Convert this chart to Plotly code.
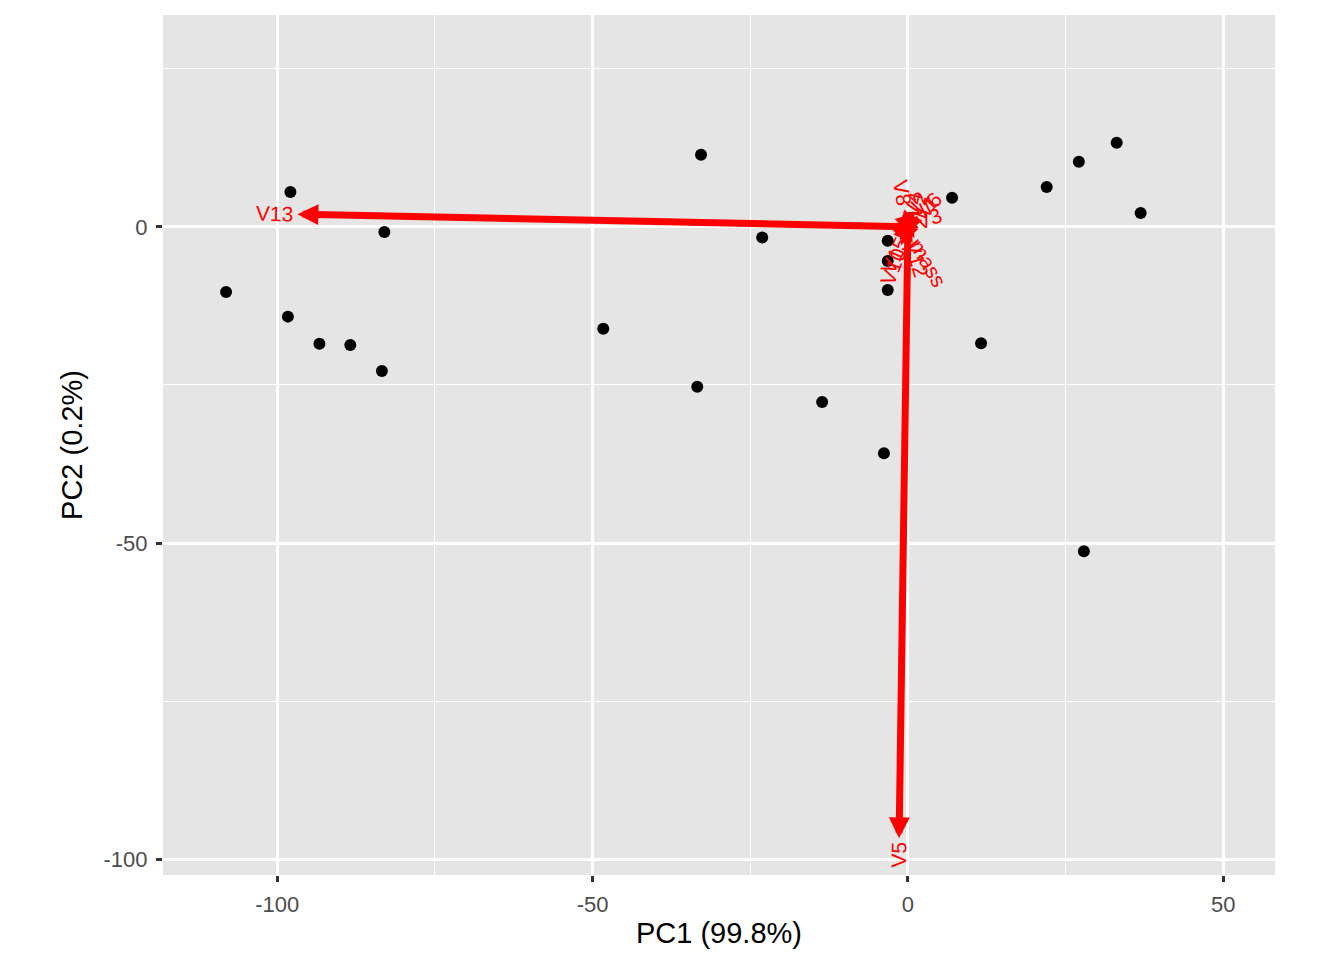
import numpy as np
import plotly.graph_objects as go

# PCA scores (PC1, PC2)
pc1 = [-32.8, -97.9, -83.0, -108.1, -98.3, -93.3, -88.4, -83.4, -48.3, -33.4,
       -23.1, -13.6, -3.8, -3.2, -3.2, -3.2, 7.0, 11.6, 22.0, 27.1, 33.1, 36.9, 27.9]
pc2 = [11.4, 5.5, -0.8, -10.3, -14.2, -18.5, -18.7, -22.8, -16.1, -25.3,
       -1.7, -27.7, -35.8, -10.0, -5.4, -2.2, 4.6, -18.4, 6.3, 10.3, 13.3, 2.2, -51.3]

# loadings (arrow tips)
var_names = ["V13", "V5", "V8", "V10", "mass", "V12", "V15", "V1", "V2", "V3", "V4", "V6"]
load_x = [-96.8, -1.4, -0.5, -1.1, 1.03, 0.44, -0.6, 0.9, 0.5, 1.0, 0.2, 1.6]
load_y = [2.0, -96.7, 2.8, -2.9, -1.78, -1.5, -1.3, 1.0, 1.2, 0.4, 0.9, 1.7]

x_ticks = [-100, -50, 0, 50]
y_ticks = [-100, -50, 0]

fig = go.Figure()
fig.add_trace(go.Scatter(x=pc1, y=pc2, mode="markers",
                         marker=dict(color="black", size=12), showlegend=False))

annotations = []
for name, vx, vy in zip(var_names, load_x, load_y):
    annotations.append(dict(x=vx, y=vy, ax=0, ay=0, xref="x", yref="y",
                            axref="x", ayref="y", text="", showarrow=True,
                            arrowhead=2, arrowsize=0.6, arrowwidth=7,
                            arrowcolor="red", standoff=0))
for name, vx, vy in zip(var_names, load_x, load_y):
    ang = np.degrees(np.arctan(vy / vx))
    norm = np.hypot(vx, vy)
    ux, uy = vx / norm, vy / norm
    half = len(name) * 6.2 + 4
    annotations.append(dict(x=vx, y=vy, xref="x", yref="y", text=name,
                            showarrow=False, textangle=-ang,
                            xshift=ux * half, yshift=uy * half,
                            font=dict(color="red", size=21,
                                      family="Liberation Sans, Arial")))

fig.update_layout(
    width=1344, height=960,
    margin=dict(l=155, r=77, t=7, b=93),
    paper_bgcolor="white", plot_bgcolor="#E5E5E5",
    font=dict(family="Liberation Sans, Arial", size=24, color="black"),
    annotations=annotations,
)
axis_style = dict(showgrid=True, gridcolor="white", gridwidth=2.5, zeroline=False,
                  ticks="outside", ticklen=6, tickwidth=2.5, tickcolor="#333333",
                  tickfont=dict(size=22, color="#4D4D4D"), ticklabelstandoff=4,
                  minor=dict(showgrid=True, gridcolor="white", gridwidth=1.2, dtick=25))
fig.update_xaxes(range=[-118.1, 58.2], tickvals=x_ticks,
                 ticktext=[str(v) for v in x_ticks], dtick=50,
                 title=dict(text="PC1 (99.8%)", standoff=6), **axis_style)
fig.update_yaxes(range=[-102.5, 33.5], tickvals=y_ticks,
                 ticktext=[str(v) for v in y_ticks], dtick=50,
                 title=dict(text="PC2 (0.2%)", standoff=12), **axis_style)

fig.write_html("out.html")
